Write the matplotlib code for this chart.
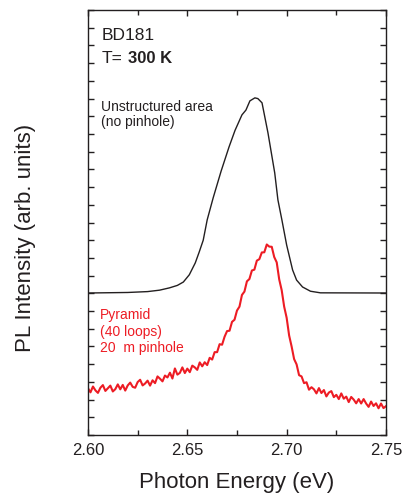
import numpy as np
import matplotlib
matplotlib.use("Agg")
import matplotlib.pyplot as plt
from matplotlib.ticker import MultipleLocator, NullFormatter

plt.rcParams['font.family'] = ['Liberation Sans', 'DejaVu Sans']

INK = '#231f20'
RED = '#ed1c24'

# unstructured area (black)
e_black = [2.600, 2.620, 2.630, 2.636, 2.641, 2.645, 2.648, 2.651, 2.654, 2.656,
           2.658, 2.660, 2.663, 2.667, 2.671, 2.674, 2.6775, 2.6795, 2.6815, 2.684,
           2.6855, 2.6876, 2.6906, 2.694, 2.6956, 2.6976, 2.700, 2.703, 2.705, 2.708,
           2.712, 2.717, 2.750]
i_black = [8.02, 8.05, 8.10, 8.18, 8.31, 8.45, 8.64, 9.05, 9.72, 10.34,
           11.00, 12.15, 13.39, 14.90, 16.27, 17.20, 18.08, 18.35, 18.87, 19.04,
           19.00, 18.76, 17.06, 14.80, 13.28, 12.15, 10.73, 9.32, 8.75, 8.36,
           8.12, 8.03, 8.02]

# pyramid (red), noisy trace sampled every 1.25 meV from 2.600 to 2.750
e_red = np.linspace(2.600, 2.750, 121)
i_red = [2.64, 2.41, 2.74, 2.52, 2.38, 2.67, 2.82, 2.49, 2.64, 2.79,
         2.46, 2.59, 2.86, 2.58, 2.83, 2.51, 2.80, 2.96, 2.72, 2.67,
         2.99, 3.12, 2.80, 2.91, 3.07, 2.79, 3.09, 2.93, 3.31, 3.18,
         3.03, 3.36, 3.25, 3.52, 3.19, 3.76, 3.41, 3.51, 3.82, 3.50,
         3.75, 3.55, 3.92, 3.82, 3.68, 4.10, 3.88, 4.11, 3.95, 4.36,
         4.26, 4.68, 4.68, 5.13, 5.10, 5.55, 5.87, 5.89, 6.39, 6.51,
         7.03, 7.25, 7.91, 8.10, 8.68, 8.81, 9.29, 9.34, 9.85, 9.93,
         10.31, 10.32, 10.76, 10.64, 10.63, 10.05, 9.75, 8.79, 8.18, 7.25,
         6.62, 5.62, 5.00, 4.29, 3.99, 3.38, 3.31, 2.93, 2.98, 2.56,
         2.70, 2.58, 2.35, 2.65, 2.37, 2.54, 2.18, 2.40, 2.48, 2.14,
         2.27, 2.03, 2.35, 2.05, 2.17, 1.86, 2.15, 2.00, 1.79, 2.03,
         1.78, 2.03, 1.78, 1.59, 1.89, 1.64, 1.79, 1.51, 1.78, 1.52,
         1.63]

x_ticks = [2.60, 2.65, 2.70, 2.75]
x_labels = ['2.60', '2.65', '2.70', '2.75']

fig = plt.figure(figsize=(4.04, 4.97), dpi=100)
ax = fig.add_axes([0.2178, 0.1247, 0.7376, 0.8551])

ax.plot(e_black, i_black, color=INK, lw=1.0)
ax.plot(e_red, i_red, color=RED, lw=1.5)

ax.set_xlim(2.60, 2.75)
ax.set_ylim(0, 24)
ax.set_xticks(x_ticks)
ax.set_xticklabels(x_labels)
ax.xaxis.set_minor_locator(MultipleLocator(0.025))
ax.yaxis.set_major_locator(MultipleLocator(1))
ax.yaxis.set_major_formatter(NullFormatter())
ax.tick_params(which='both', direction='in', top=True, right=True,
               color=INK, width=1.0, labelsize=12, labelcolor=INK, pad=6)
ax.tick_params(which='major', length=4.5)
ax.tick_params(which='minor', length=3.5)
for s in ax.spines.values():
    s.set_color(INK)
    s.set_linewidth(1.0)

ax.text(0.5, -0.111, 'Photon Energy (eV)', transform=ax.transAxes,
        ha='center', va='center', fontsize=16, color=INK)
ax.text(-0.211, 0.4635, 'PL Intensity (arb. units)', transform=ax.transAxes,
        rotation=90, ha='center', va='center', fontsize=16, color=INK)

ax.text(0.047, 0.929, 'BD181', transform=ax.transAxes, va='baseline',
        fontsize=12.5, color=INK)
ax.text(0.047, 0.875, 'T=', transform=ax.transAxes, va='baseline',
        fontsize=12.5, color=INK)
ax.text(0.134, 0.875, '300 K', transform=ax.transAxes, va='baseline',
        fontsize=12, fontweight='bold', color=INK)
ax.text(0.044, 0.762, 'Unstructured area', transform=ax.transAxes,
        va='baseline', fontsize=10, color=INK)
ax.text(0.044, 0.727, '(no pinhole)', transform=ax.transAxes,
        va='baseline', fontsize=10, color=INK)

ax.text(0.040, 0.273, 'Pyramid', transform=ax.transAxes, va='baseline',
        fontsize=10, color=RED)
ax.text(0.040, 0.233, '(40 loops)', transform=ax.transAxes, va='baseline',
        fontsize=10, color=RED)
ax.text(0.040, 0.195, '20  m pinhole', transform=ax.transAxes, va='baseline',
        fontsize=10, color=RED)

fig.savefig('out.png', dpi=100)
